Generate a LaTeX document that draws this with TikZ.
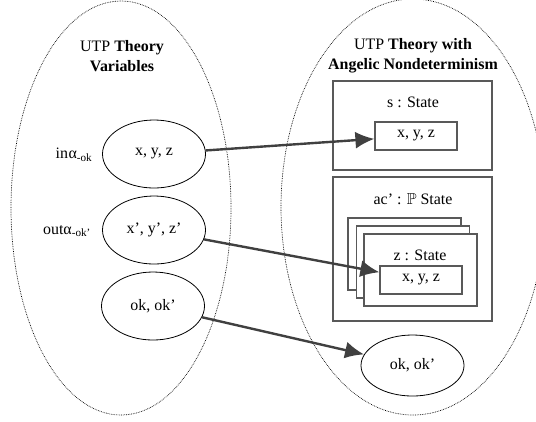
\documentclass[tikz,border=0pt]{standalone}
\usepackage{amssymb}
\usepackage{fontspec}
\setmainfont{Liberation Serif}
\usetikzlibrary{positioning,shapes.geometric,arrows.meta}

\tikzset{
	var ellipse/.style={draw, ellipse, line width=0.8pt, inner sep=0pt, minimum width=103bp, minimum height=68bp},
	state box/.style={draw=black!65, line width=1.2pt, fill=white, rectangle, inner sep=0pt},
	var box/.style={state box, minimum width=82bp, minimum height=28bp},
	theory/.style={densely dotted, line width=0.7pt},
	maps to/.style={-{Latex[length=19bp, width=17bp]}, line width=2.4pt, draw=black!75},
	title/.style={align=center, font=\fontsize{16}{20}\selectfont}
}

\begin{document}
\begin{tikzpicture}[x=1bp, y=-1bp, font=\fontsize{16}{19}\selectfont]
		\useasboundingbox (0,0) rectangle (536,421);
		
		% the two theories
		\draw [theory] (121,208) ellipse [x radius=110, y radius=207];
		\draw [theory] (413,207) ellipse [x radius=132, y radius=208];
		
		\node [title] (utp-title) at (122,56) {UTP \textbf{Theory}\\ \textbf{Variables}};
		\node [title] (angelic-title) at (413,56) {UTP \textbf{Theory with}\\ \textbf{Angelic Nondeterminism}};
		
		% variables of the UTP theory
		\node [var ellipse] (in-vars) at (154,154) {x, y, z};
		\node [var ellipse] (out-vars) at (154,230) {x’, y’, z’};
		\node [var ellipse] (ok-vars) at (153,306) {ok, ok’};
		
		\node (in-label) at (74,155) {in\kern0.5pt α\textsubscript{-ok}};
		\node (out-label) at (67,231) {outα\textsubscript{-ok’}};
		
		% state s
		\node [state box, minimum width=159bp, minimum height=89bp] (s-box) at (412.5,125.5) {};
		\node (s-label) at (413,102) {s : State};
		\node [var box] (s-vars) at (416,136) {x, y, z};
		
		% set of states ac'
		\node [state box, minimum width=159bp, minimum height=144bp] (ac-box) at (412.5,249) {};
		\node (ac-label) at (413,199) {ac' : $\mathbb{P}$ State};
		
		\foreach \n/\x/\y in {1/404.5/254, 2/413/262, 3/420.5/270}
		\node [state box, minimum width=113bp, minimum height=72bp] (z-box-\n) at (\x,\y) {};
		\node (z-label) at (420,255) {z : State};
		\node [var box] (z-vars) at (421,280) {x, y, z};
		
		\node [var ellipse, minimum height=61bp] (ok-out) at (412.5,365.5) {ok, ok’};
		
		% mappings
		\draw [maps to] (in-vars) -- (s-vars);
		\draw [maps to] (out-vars) -- (z-vars);
		\draw [maps to] (ok-vars) -- (ok-out);
		
	\end{tikzpicture}
\end{document}
